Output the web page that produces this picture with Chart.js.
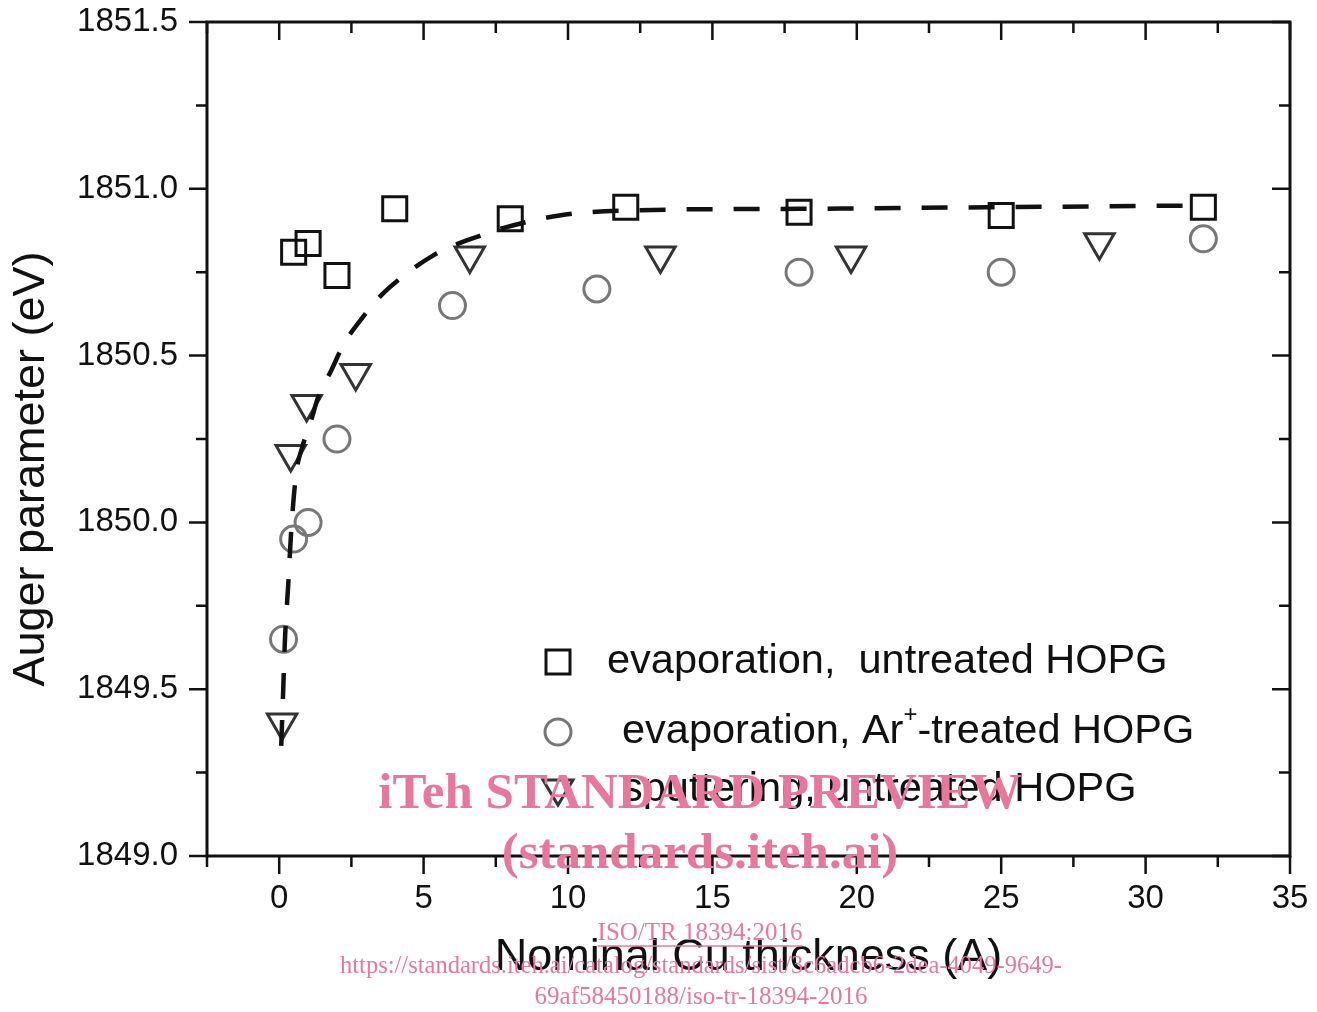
<!DOCTYPE html>
<html>
<head>
<meta charset="utf-8">
<script src="https://cdn.jsdelivr.net/npm/chart.js@4.4.1/dist/chart.umd.min.js"></script>
<style>
  html, body { margin: 0; padding: 0; background: #fff; }
</style>
</head>
<body>
<canvas id="chart" width="1317" height="1012"></canvas>
<script>
// evaporation, untreated HOPG (squares)
const evapUntreatedX = [0.5, 1, 2, 4, 8, 12, 18, 25, 32];
const evapUntreatedY = [1850.81, 1850.836, 1850.74, 1850.94, 1850.91, 1850.945, 1850.93, 1850.92, 1850.945];

// evaporation, Ar+-treated HOPG (circles)
const evapArX = [0.15, 0.5, 1, 2, 6, 11, 18, 25, 32];
const evapArY = [1849.65, 1849.95, 1850.0, 1850.25, 1850.65, 1850.70, 1850.75, 1850.75, 1850.85];

// sputtering, untreated HOPG (triangles)
const sputterX = [0.1, 0.4, 0.95, 2.65, 6.6, 13.2, 19.8, 28.4];
const sputterY = [1849.40, 1850.205, 1850.355, 1850.448, 1850.80, 1850.80, 1850.80, 1850.84];

// dashed guide curve
const fitX = [0.07, 0.14, 0.2, 0.31, 0.42, 0.59, 0.8, 1.11, 1.35, 1.81, 2.22, 2.85, 3.58, 4.44, 5.31, 6.18, 7.12, 7.74, 9.7, 12, 18, 25, 32];
const fitY = [1849.33, 1849.50, 1849.65, 1849.81, 1849.98, 1850.148, 1850.226, 1850.307, 1850.376, 1850.457, 1850.532, 1850.61, 1850.685, 1850.748, 1850.799, 1850.835, 1850.864, 1850.882, 1850.92, 1850.935, 1850.94, 1850.945, 1850.95];

const xTickValues = [0, 5, 10, 15, 20, 25, 30, 35];
const xMinorValues = [-2.5, 2.5, 7.5, 12.5, 17.5, 22.5, 27.5, 32.5];
const yTickValues = [1849.0, 1849.5, 1850.0, 1850.5, 1851.0, 1851.5];
const yMinorValues = [1849.25, 1849.75, 1850.25, 1850.75, 1851.25];

const legendLabels = ['evaporation,  untreated HOPG', 'evaporation, Ar+-treated HOPG', 'sputtering, untreated HOPG'];

const FONT = '"Liberation Sans", Arial, Helvetica, sans-serif';
const PINK = '#e8779c';

const toXY = (xs, ys) => xs.map((v, i) => ({ x: v, y: ys[i] }));

// square / circle / down-triangle outline for the legend
function marker(ctx, kind, x, y) {
  ctx.beginPath();
  if (kind === 'rect') {
    ctx.rect(x - 12, y - 12, 24, 24);
  } else if (kind === 'circle') {
    ctx.arc(x, y, 13, 0, Math.PI * 2);
  } else {
    ctx.moveTo(x - 15, y - 10);
    ctx.lineTo(x + 15, y - 10);
    ctx.lineTo(x, y + 15);
    ctx.closePath();
  }
  ctx.stroke();
}

const decorations = {
  id: 'decorations',
  afterDraw(chart) {
    const { ctx, chartArea: a, scales: { x, y } } = chart;
    ctx.save();

    // frame
    ctx.strokeStyle = '#111';
    ctx.lineWidth = 3;
    ctx.strokeRect(a.left, a.top, a.right - a.left, a.bottom - a.top);

    // ticks: outside on bottom/left, inside on top/right
    ctx.lineWidth = 2.5;
    const xTick = (v, len) => {
      const px = x.getPixelForValue(v);
      ctx.beginPath();
      ctx.moveTo(px, a.bottom); ctx.lineTo(px, a.bottom + len);
      ctx.moveTo(px, a.top); ctx.lineTo(px, a.top + len);
      ctx.stroke();
    };
    const yTick = (v, len) => {
      const py = y.getPixelForValue(v);
      ctx.beginPath();
      ctx.moveTo(a.left, py); ctx.lineTo(a.left - len, py);
      ctx.moveTo(a.right, py); ctx.lineTo(a.right - len, py);
      ctx.stroke();
    };
    xTickValues.forEach(v => xTick(v, 18));
    xMinorValues.forEach(v => xTick(v, 11));
    yTickValues.forEach(v => yTick(v, 18));
    yMinorValues.forEach(v => yTick(v, 11));

    // axis titles
    ctx.fillStyle = '#111';
    ctx.font = '45px ' + FONT;
    ctx.textAlign = 'center';
    ctx.textBaseline = 'middle';
    ctx.fillText('Nominal Cu thickness (A)', (a.left + a.right) / 2, 958);
    ctx.save();
    ctx.translate(32, 469);
    ctx.rotate(-Math.PI / 2);
    ctx.fillText('Auger parameter (eV)', 0, 0);
    ctx.restore();

    // legend
    const kinds = ['rect', 'circle', 'tri'];
    const colors = ['#111', '#777', '#333'];
    const rowsY = [662, 732, 790];
    const textX = [607, 622, 622];
    ctx.lineWidth = 3;
    ctx.textAlign = 'left';
    ctx.font = '41.5px ' + FONT;
    legendLabels.forEach((label, i) => {
      ctx.strokeStyle = colors[i];
      marker(ctx, kinds[i], 558, rowsY[i]);
      ctx.fillStyle = '#111';
      const parts = label.split('Ar+');
      if (parts.length === 2) {
        let tx = textX[i];
        ctx.fillText(parts[0] + 'Ar', tx, rowsY[i]);
        tx += ctx.measureText(parts[0] + 'Ar').width;
        ctx.font = '24px ' + FONT;
        ctx.fillText('+', tx, rowsY[i] - 17);
        tx += ctx.measureText('+').width;
        ctx.font = '41.5px ' + FONT;
        ctx.fillText(parts[1], tx, rowsY[i]);
      } else {
        ctx.fillText(label, textX[i], rowsY[i]);
      }
    });

    // watermark
    ctx.fillStyle = PINK;
    ctx.strokeStyle = PINK;
    ctx.textAlign = 'center';
    ctx.font = 'bold 51px "Liberation Serif", "Times New Roman", serif';
    ctx.fillText('iTeh STANDARD PREVIEW', 700, 795);
    ctx.fillText('(standards.iteh.ai)', 700, 855);
    ctx.font = '25px "Liberation Serif", "Times New Roman", serif';
    ctx.fillText('ISO/TR 18394:2016', 700, 933);
    const w = ctx.measureText('ISO/TR 18394:2016').width;
    ctx.lineWidth = 1.5;
    ctx.beginPath();
    ctx.moveTo(700 - w / 2, 946); ctx.lineTo(700 + w / 2, 946);
    ctx.stroke();
    ctx.fillText('https://standards.iteh.ai/catalog/standards/sist/3c6adcb6-2dea-4049-9649-', 701, 966, 722);
    ctx.fillText('69af58450188/iso-tr-18394-2016', 701, 997, 337);

    ctx.restore();
  }
};

const ctx = document.getElementById('chart').getContext('2d');

new Chart(ctx, {
  type: 'scatter',
  data: {
    datasets: [
      {
        label: 'fit',
        data: toXY(fitX, fitY),
        showLine: true,
        borderColor: '#111',
        borderWidth: 4.5,
        borderDash: [26, 21],
        pointRadius: 0,
        cubicInterpolationMode: 'monotone',
        order: 0
      },
      {
        label: legendLabels[0],
        data: toXY(evapUntreatedX, evapUntreatedY),
        pointStyle: 'rect',
        pointRadius: 17,
        pointBorderWidth: 3,
        borderColor: '#111',
        backgroundColor: 'transparent',
        order: 1
      },
      {
        label: legendLabels[1],
        data: toXY(evapArX, evapArY),
        pointStyle: 'circle',
        pointRadius: 13,
        pointBorderWidth: 3,
        borderColor: '#777',
        backgroundColor: 'transparent',
        order: 1
      },
      {
        label: legendLabels[2],
        data: toXY(sputterX, sputterY),
        pointStyle: 'triangle',
        rotation: 180,
        pointRadius: 17,
        pointBorderWidth: 3,
        borderColor: '#333',
        backgroundColor: 'transparent',
        order: 1
      }
    ]
  },
  options: {
    responsive: false,
    animation: false,
    layout: { autoPadding: false, padding: { left: 0, right: 27, top: 22, bottom: 0 } },
    plugins: {
      legend: { display: false },
      tooltip: { enabled: false }
    },
    scales: {
      x: {
        type: 'linear',
        min: -2.5,
        max: 35,
        afterBuildTicks: s => { s.ticks = xTickValues.map(v => ({ value: v })); },
        afterFit: s => { s.height = 156; s.paddingLeft = 0; s.paddingRight = 0; },
        grid: { display: false, drawTicks: false },
        border: { display: false },
        ticks: {
          color: '#111',
          font: { family: FONT, size: 33 },
          padding: 23,
          maxRotation: 0,
          autoSkip: false
        }
      },
      y: {
        type: 'linear',
        min: 1849.0,
        max: 1851.5,
        afterBuildTicks: s => { s.ticks = yTickValues.map(v => ({ value: v })); },
        afterFit: s => { s.width = 207; s.paddingTop = 0; s.paddingBottom = 0; },
        grid: { display: false, drawTicks: false },
        border: { display: false },
        ticks: {
          color: '#111',
          font: { family: FONT, size: 33 },
          padding: 29,
          callback: v => v.toFixed(1)
        }
      }
    }
  },
  plugins: [decorations]
});
</script>
</body>
</html>
